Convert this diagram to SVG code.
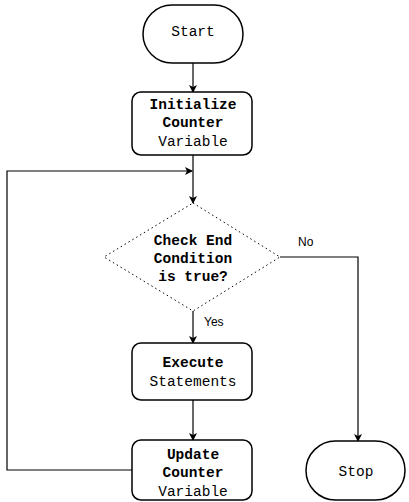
<svg xmlns="http://www.w3.org/2000/svg" width="409" height="502" viewBox="0 0 409 502">
<style>
.shape{fill:#fff;stroke:#000;stroke-width:1.5}
.dia{fill:#fff;stroke:#000;stroke-width:1;stroke-dasharray:1.5 3}
.t{font-family:"Liberation Mono","Courier New",monospace;font-size:14.5px;fill:#000;text-anchor:middle}
.b{font-weight:bold}
.lbl{font-family:"Liberation Sans",Arial,sans-serif;font-size:12px;fill:#000}
.c{fill:none;stroke:#000;stroke-width:1.2}
</style>
<defs>
<marker id="ah" markerWidth="8" markerHeight="8" refX="7" refY="4" orient="auto" markerUnits="userSpaceOnUse">
<path d="M0,0 L8,4 L0,8 L2,4 Z" fill="#000"/>
</marker>
</defs>
<g id="connectors">
<path class="c" d="M193,63 V92" marker-end="url(#ah)"/>
<path class="c" d="M193,155 V203" marker-end="url(#ah)"/>
<path class="c" d="M193,311 V343" marker-end="url(#ah)"/>
<path class="c" d="M193,400 V440" marker-end="url(#ah)"/>
<path class="c" d="M280,257 H358 V441" marker-end="url(#ah)"/>
<path class="c" d="M132,470 H7 V171 H192" marker-end="url(#ah)"/>
<text class="lbl" x="298" y="246">No</text>
<text class="lbl" x="204" y="326">Yes</text>
</g>
<g id="start">
<rect class="shape" x="143" y="5" width="100" height="58" rx="29" ry="29"/>
<text class="t" x="193" y="36">Start</text>
</g>
<g id="init">
<rect class="shape" x="132" y="92" width="120" height="63" rx="9" ry="9"/>
<text class="t b" x="193" y="109">Initialize</text>
<text class="t b" x="193" y="127">Counter</text>
<text class="t" x="193" y="146">Variable</text>
</g>
<g id="check">
<polygon class="dia" points="193,203 280,257 193,311 104,257"/>
<text class="t b" x="193" y="245">Check End</text>
<text class="t b" x="193" y="263">Condition</text>
<text class="t b" x="193" y="281">is true?</text>
</g>
<g id="execute">
<rect class="shape" x="132" y="343" width="120" height="57" rx="9" ry="9"/>
<text class="t b" x="193" y="367">Execute</text>
<text class="t" x="193" y="386">Statements</text>
</g>
<g id="update">
<rect class="shape" x="132" y="440" width="120" height="60" rx="9" ry="9"/>
<text class="t b" x="193" y="459">Update</text>
<text class="t b" x="193" y="477">Counter</text>
<text class="t" x="193" y="496">Variable</text>
</g>
<g id="stop">
<rect class="shape" x="306" y="441" width="99" height="59" rx="29.5" ry="29.5"/>
<text class="t" x="356" y="476">Stop</text>
</g>
</svg>
